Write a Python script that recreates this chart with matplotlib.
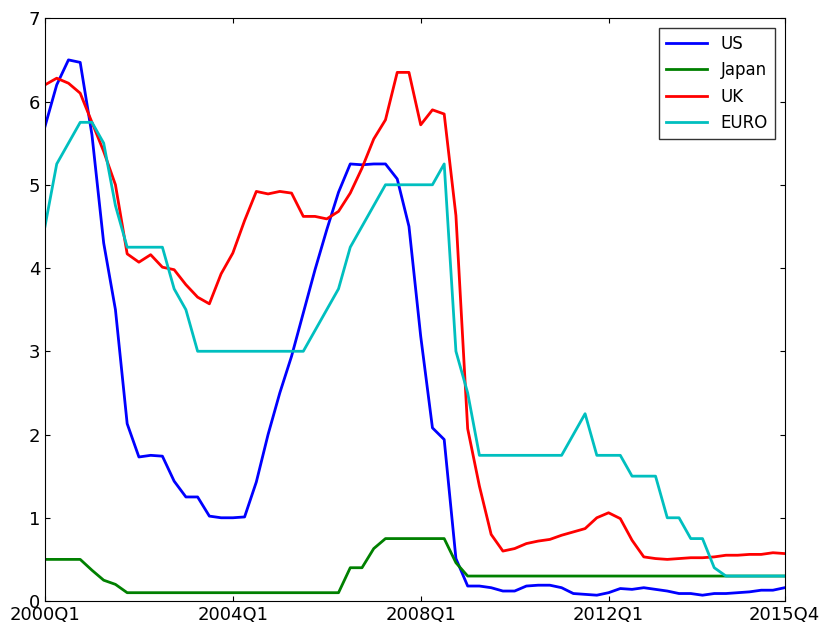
import numpy as np
import matplotlib.pyplot as plt

us = [5.7, 6.2, 6.5, 6.47, 5.6, 4.3, 3.5, 2.13, 1.73, 1.75, 1.74, 1.44, 1.25, 1.25, 1.02, 1.0,
      1.0, 1.01, 1.43, 2.0, 2.5, 2.94, 3.46, 3.98, 4.46, 4.91, 5.25, 5.24, 5.25, 5.25, 5.07, 4.5,
      3.18, 2.08, 1.94, 0.51, 0.18, 0.18, 0.16, 0.12, 0.12, 0.18, 0.19, 0.19, 0.16, 0.09, 0.08, 0.07,
      0.1, 0.15, 0.14, 0.16, 0.14, 0.12, 0.09, 0.09, 0.07, 0.09, 0.09, 0.1, 0.11, 0.13, 0.13, 0.16]
japan = [0.5, 0.5, 0.5, 0.5, 0.37, 0.25, 0.2, 0.1] + [0.1] * 18 + \
        [0.4, 0.4, 0.63, 0.75, 0.75, 0.75, 0.75, 0.75, 0.75, 0.46] + [0.3] * 28
uk = [6.2, 6.28, 6.22, 6.1, 5.75, 5.4, 5.0, 4.17, 4.07, 4.16, 4.01, 3.98, 3.8, 3.65, 3.57, 3.93,
      4.18, 4.57, 4.92, 4.89, 4.92, 4.9, 4.62, 4.62, 4.59, 4.68, 4.9, 5.2, 5.55, 5.78, 6.35, 6.35,
      5.72, 5.9, 5.85, 4.63, 2.07, 1.38, 0.8, 0.6, 0.63, 0.69, 0.72, 0.74, 0.79, 0.83, 0.87, 1.0,
      1.06, 0.99, 0.73, 0.53, 0.51, 0.5, 0.51, 0.52, 0.52, 0.53, 0.55, 0.55, 0.56, 0.56, 0.58, 0.57]
euro = [4.5, 5.25, 5.5, 5.75, 5.75, 5.5, 4.75, 4.25, 4.25, 4.25, 4.25, 3.75, 3.5] + [3.0] * 10 + \
       [3.25, 3.5, 3.75, 4.25, 4.5, 4.75, 5.0, 5.0, 5.0, 5.0, 5.0, 5.25, 3.0, 2.5] + [1.75] * 8 + \
       [2.0, 2.25, 1.75, 1.75, 1.75, 1.5, 1.5, 1.5, 1.0, 1.0, 0.75, 0.75, 0.4] + [0.3] * 6
tick_pos = [0, 16, 32, 48, 63]
tick_labels = ['2000Q1', '2004Q1', '2008Q1', '2012Q1', '2015Q4']

fig = plt.figure(figsize=(8.33, 6.3), dpi=100)
ax = fig.add_axes([0.054, 0.046, 0.888, 0.925])
x = np.arange(len(us))
ax.plot(x, us, color='#0000ff', lw=2, label='US')
ax.plot(x, japan, color='#008000', lw=2, label='Japan')
ax.plot(x, uk, color='#ff0000', lw=2, label='UK')
ax.plot(x, euro, color='#00bfbf', lw=2, label='EURO')
ax.set_xlim(0, 63)
ax.set_ylim(0, 7)
ax.set_xticks(tick_pos)
ax.set_xticklabels(tick_labels)
ax.tick_params(direction='in', top=True, right=True, labelsize=13)
ax.legend(loc='upper right', fontsize=12, fancybox=False, edgecolor='black',
          handlelength=2.5, borderaxespad=0.6)
fig.savefig('out.png')
